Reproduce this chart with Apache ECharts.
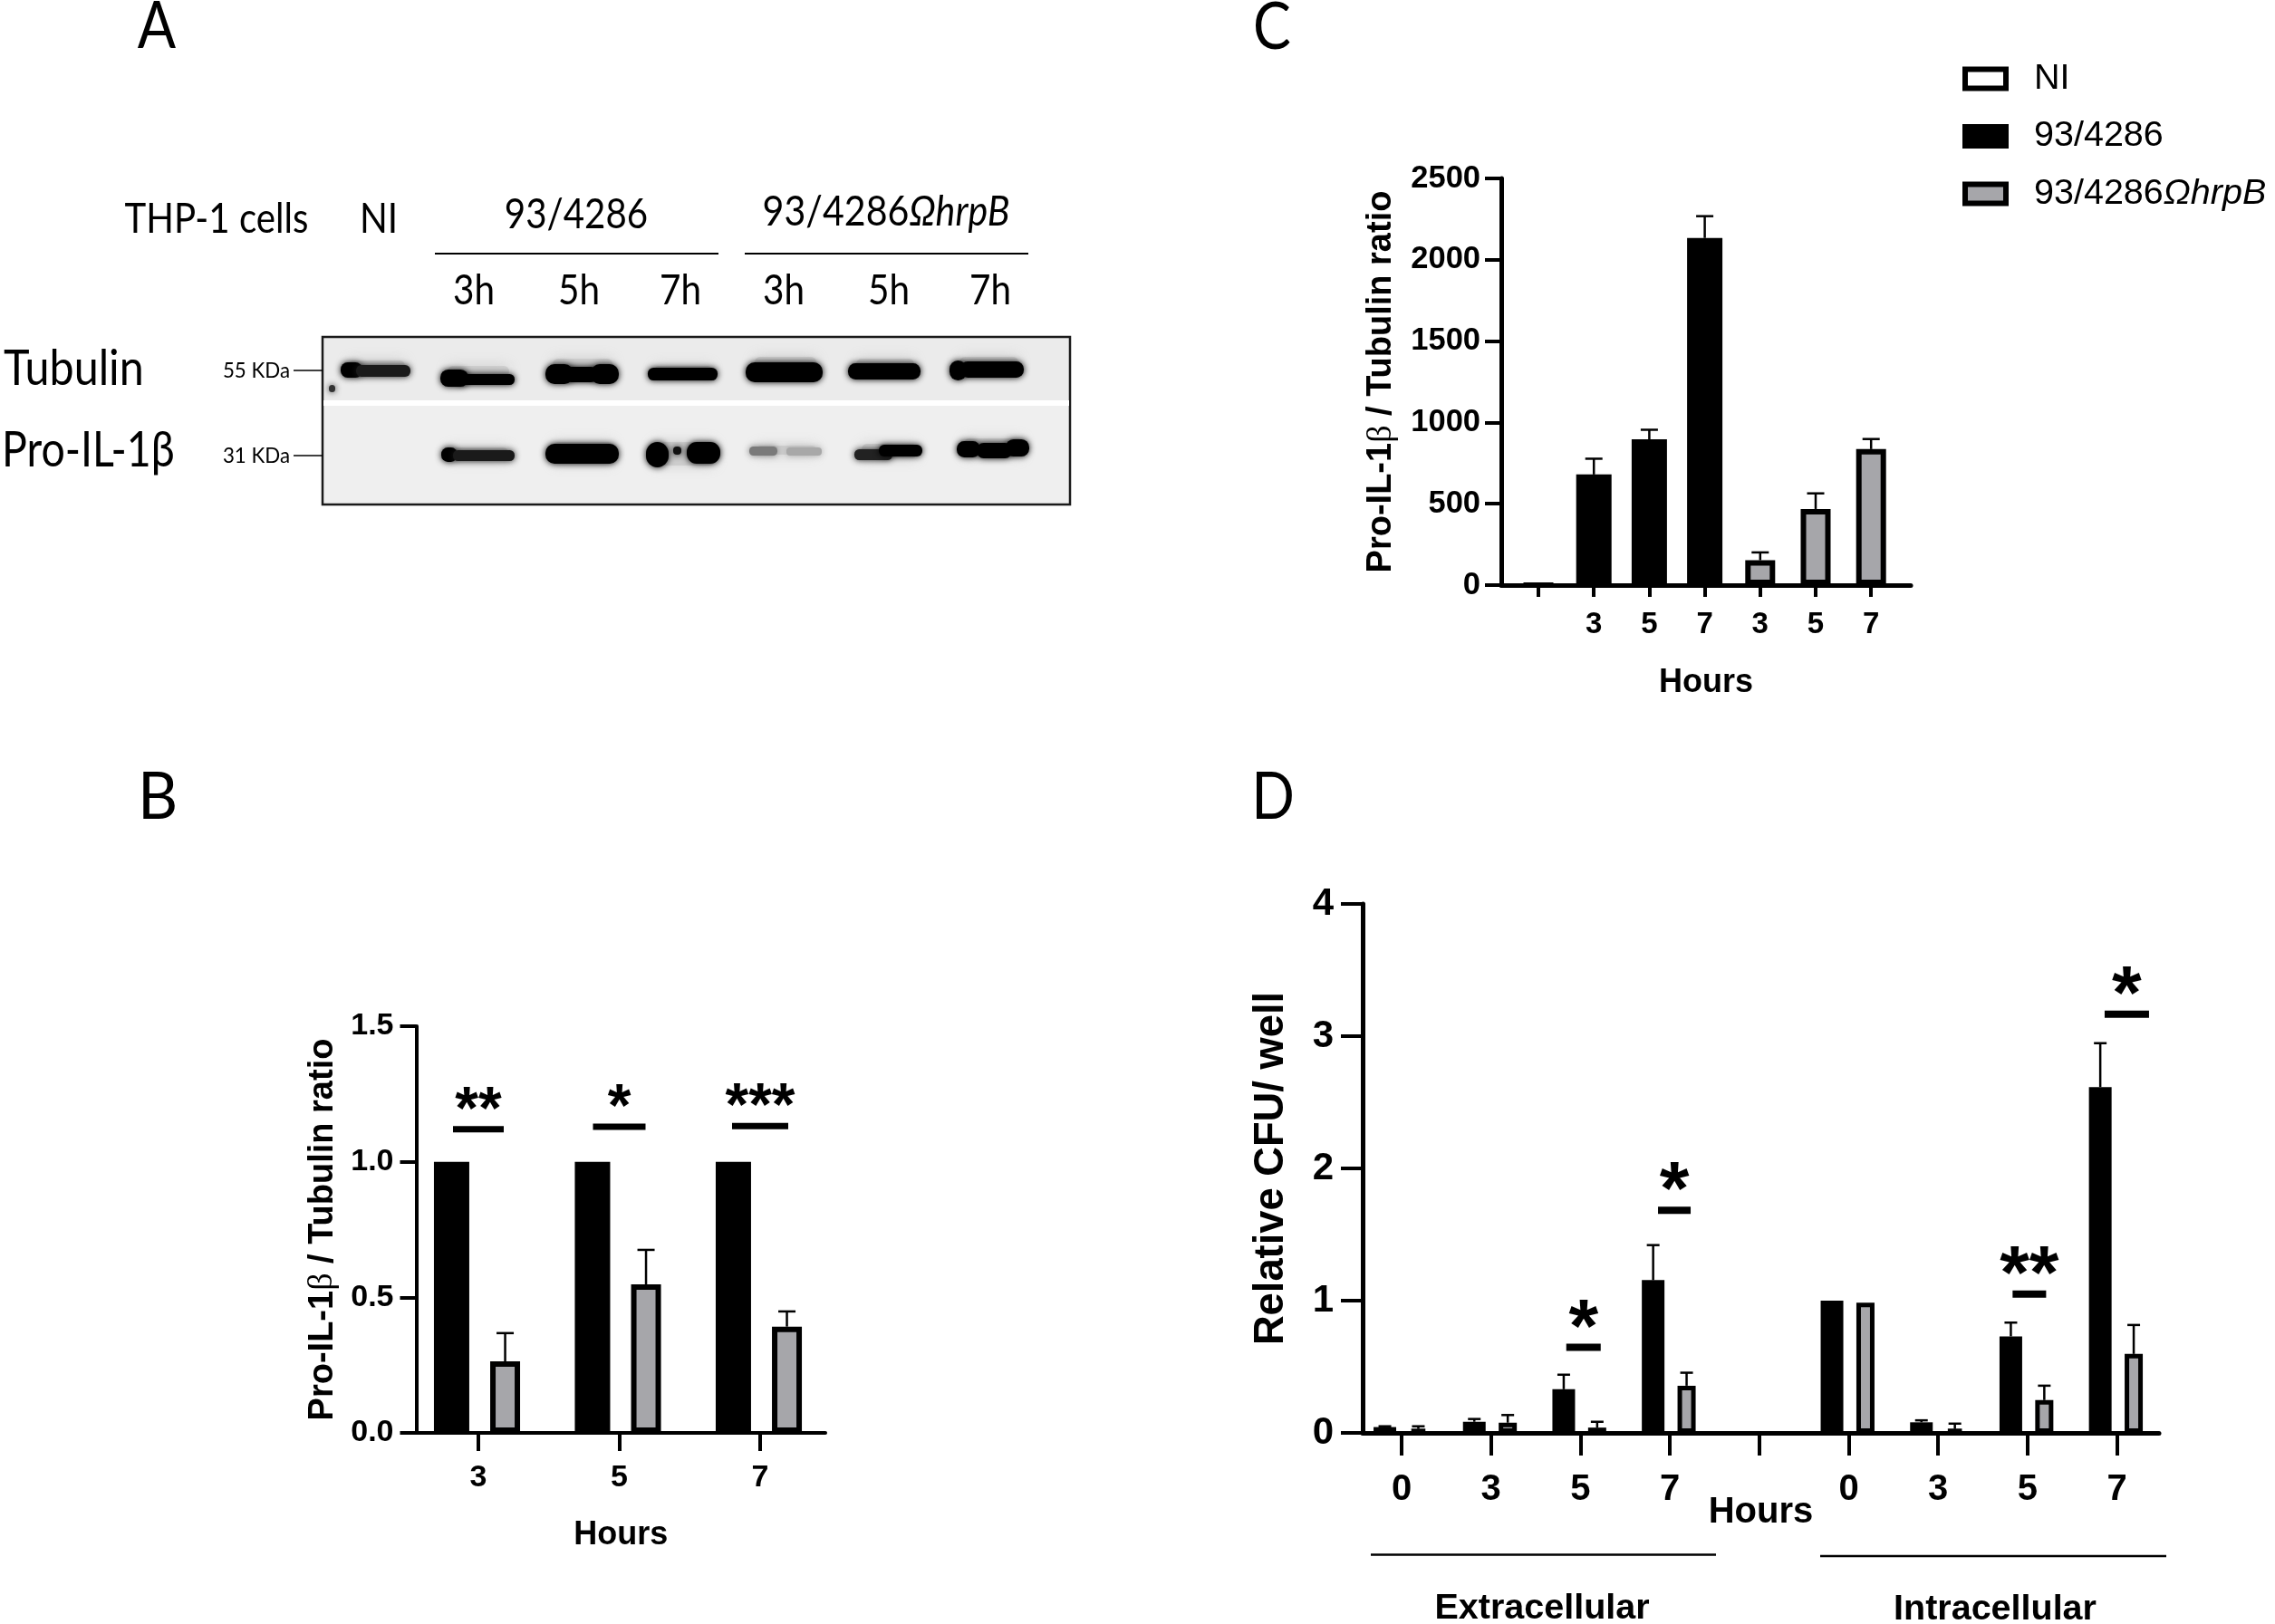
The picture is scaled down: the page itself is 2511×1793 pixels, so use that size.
<!DOCTYPE html>
<html>
<head>
<meta charset="utf-8">
<title>Pro-IL-1b figure</title>
<script src="https://cdn.jsdelivr.net/npm/echarts@6/dist/echarts.min.js"></script>
<style>
html,body{margin:0;padding:0;background:#fff}
#main{width:2511px;height:1793px}
</style>
</head>
<body>
<div id="main"></div>
<script>
// panel B
var hoursB = ['3','5','7'];
var wtB = [1,1,1];
var mutB = [0.264,0.548,0.392];
var mutErrB = [0.368,0.675,0.448];
var sigB = [[0,1.12,'**'],[1,1.129,'*'],[2,1.132,'***']];

// panel C
var hoursC = ['','3','5','7','3','5','7'];
var niC = [0];
var wtC = [680,896,2134];
var wtErrC = [777,955,2268];
var mutC = [153,468,836];
var mutErrC = [201,564,898];

// panel D
var hoursD = ['0','3','5','7','','0','3','5','7'];
var wtD = [0.044,0.084,0.33,1.155,null,1,0.08,0.73,2.615];
var wtErrD = [0.05,0.105,0.44,1.42,null,null,0.095,0.834,2.947];
var mutD = [0.03,0.077,0.04,0.357,null,0.985,0.03,0.248,0.597];
var mutErrD = [0.05,0.135,0.084,0.455,null,null,0.07,0.357,0.816];
var sigD = [[2.034,0.648,'*'],[3.05,1.683,'*'],[7.02,1.049,'**'],[8.11,3.166,'*']];

var GREY = '#a6a6aa';
var ARIAL = '"Liberation Sans",Arial,sans-serif';
var CALIBRI = 'Lato,"Open Sans",sans-serif';

var grids = [], xAxes = [], yAxes = [], series = [];

// one panel: visible x axis plus a hidden twin, so black and grey bars keep their own width
function addPanel(p){
  var g = grids.length;
  grids.push({left:p.left,top:p.top,width:p.width,height:p.height,containLabel:false});
  var xIdx = xAxes.length;
  xAxes.push({
    gridIndex:g,type:'value',min:p.xmin,max:p.xmax,splitLine:{show:false},
    name:'Hours',nameLocation:'middle',nameGap:p.xNameGap,nameMoveOverlap:false,
    nameTextStyle:{fontFamily:ARIAL,fontWeight:'bold',fontSize:p.xNameSize,color:'#000'},
    axisLine:{show:true,onZero:false,lineStyle:{color:'#000',width:p.lw}},
    axisTick:{show:true,customValues:p.slots,length:p.xTick,lineStyle:{color:'#000',width:4}},
    axisLabel:{show:true,customValues:p.slots,margin:p.xLabelMargin,fontFamily:ARIAL,fontWeight:'bold',fontSize:p.xLabelSize,color:'#000',
      formatter:function(v){return p.labels[v]}}
  });
  xAxes.push({gridIndex:g,type:'value',min:p.xmin,max:p.xmax,show:false,splitLine:{show:false}});
  yAxes.push({
    gridIndex:g,type:'value',min:0,max:p.ymax,interval:p.yint,splitLine:{show:false},
    name:p.yName,nameLocation:'middle',nameGap:p.yNameGap,nameRotate:90,nameMoveOverlap:false,
    nameTextStyle:{fontFamily:ARIAL,fontWeight:'bold',fontSize:p.yNameSize,color:'#000',
      rich:{a:{fontFamily:ARIAL,fontWeight:'bold',fontSize:p.yNameSize,color:'#000'},
            b:{fontFamily:'"Liberation Serif",serif',fontWeight:'normal',fontSize:p.yNameSize,color:'#000'}}},
    axisLine:{show:true,onZero:false,lineStyle:{color:'#000',width:p.lw}},
    axisTick:{show:true,length:p.yTick,lineStyle:{color:'#000',width:4}},
    axisLabel:{margin:p.yLabelMargin,fontFamily:ARIAL,fontWeight:'bold',fontSize:p.yLabelSize,color:'#000',
      formatter:function(v){return p.yfmt?p.yfmt(v):v}}
  });
  return {x:xIdx,twin:xIdx+1,y:g};
}

function barSeries(name,ax,xIndex,xs,vals,color,width,border){
  var d = [];
  vals.forEach(function(v,i){ if(v!=null) d.push([xs[i],v]) });
  series.push({
    name:name,type:'bar',xAxisIndex:xIndex,yAxisIndex:ax.y,data:d,barWidth:width,barGap:'-100%',
    itemStyle:{color:color,borderColor:'#000',borderWidth:border},
    emphasis:{disabled:true},silent:true
  });
}

function errSeries(ax,xs,vals,errs,capPx){
  var d = [];
  errs.forEach(function(e,i){ if(e!=null) d.push([xs[i],vals[i],e]) });
  series.push({
    type:'custom',xAxisIndex:ax.x,yAxisIndex:ax.y,data:d,silent:true,clip:false,
    encode:{x:0,y:[1,2]},
    renderItem:function(params,api){
      var a = api.coord([api.value(0),api.value(1)]);
      var b = api.coord([api.value(0),api.value(2)]);
      var st = {stroke:'#000',lineWidth:2.5,fill:null};
      return {type:'group',children:[
        {type:'line',shape:{x1:a[0],y1:a[1],x2:b[0],y2:b[1]},style:st},
        {type:'line',shape:{x1:b[0]-capPx/2,y1:b[1],x2:b[0]+capPx/2,y2:b[1]},style:st}
      ]};
    }
  });
}

// significance bar with its stars above
function sigSeries(ax,rows,barPx,thick,fontSize,gapPx){
  series.push({
    type:'custom',xAxisIndex:ax.x,yAxisIndex:ax.y,data:rows,silent:true,clip:false,
    encode:{x:0,y:1},
    renderItem:function(params,api){
      var c = api.coord([api.value(0),api.value(1)]);
      var r = rows[params.dataIndex];
      var w = barPx[params.dataIndex];
      return {type:'group',children:[
        {type:'rect',shape:{x:c[0]-w/2,y:c[1]-thick/2,width:w,height:thick},style:{fill:'#000'}},
        {type:'text',style:{x:c[0],y:c[1]-gapPx,text:r[2],align:'center',verticalAlign:'top',
          font:'bold '+fontSize+'px '+ARIAL,fill:'#000'}}
      ]};
    }
  });
}

function idx(a){return a.map(function(_,i){return i})}
function shift(a,d){return a.map(function(v){return v+d})}

// ---- panel B
var slotsB = idx(hoursB);
var axB = addPanel({
  left:459.5,top:1133,width:451.5,height:449,
  xmin:-(528-459.5)/155.5,xmax:(911-528)/155.5,slots:slotsB,labels:hoursB,lw:4,
  xTick:20,yTick:18,xNameGap:95,xNameSize:36,xLabelMargin:33,xLabelSize:34,
  ymax:1.5,yint:0.5,yfmt:function(v){return v.toFixed(1)},
  yName:'{a|Pro-IL-1}{b|β}{a| / Tubulin ratio}',yNameGap:84,yNameSize:38,yLabelMargin:25,yLabelSize:34
});
barSeries('',axB,axB.x,shift(slotsB,-0.19),wtB,'#000',39,0);
barSeries('',axB,axB.twin,shift(slotsB,0.19),mutB,GREY,33,6);
errSeries(axB,shift(slotsB,0.19),mutB,mutErrB,19);
sigSeries(axB,sigB,[56,58,62],7,66,52);

// ---- panel C
var slotsC = idx(hoursC);
var axC = addPanel({
  left:1657,top:197,width:452,height:449,
  xmin:-(1698-1657)/61.2,xmax:(2109-1698)/61.2,slots:slotsC,labels:hoursC,lw:5,
  xTick:13,yTick:18,xNameGap:90,xNameSize:36,xLabelMargin:27,xLabelSize:33,
  ymax:2500,yint:500,
  yName:'{a|Pro-IL-1}{b|β}{a| / Tubulin ratio}',yNameGap:113,yNameSize:38,yLabelMargin:23,yLabelSize:34.5
});
barSeries('NI',axC,axC.twin,[0],niC,'#fff',33,6);
barSeries('93/4286',axC,axC.x,[1,2,3],wtC,'#000',39,0);
barSeries('93/4286ΩhrpB',axC,axC.twin,[4,5,6],mutC,GREY,33,6);
errSeries(axC,[1,2,3],wtC,wtErrC,19);
errSeries(axC,[4,5,6],mutC,mutErrC,19);

// ---- panel D
var slotsD = idx(hoursD);
var axD = addPanel({
  left:1504,top:998,width:879,height:584,
  xmin:-(1547-1504)/98.7,xmax:(2383-1547)/98.7,slots:slotsD,labels:hoursD,lw:5,
  xTick:25,yTick:24,xNameGap:68,xNameSize:40,xLabelMargin:43,xLabelSize:40,
  ymax:4,yint:1,
  yName:'Relative CFU/ well',yNameGap:78,yNameSize:45.3,yLabelMargin:32,yLabelSize:42
});
barSeries('',axD,axD.x,shift(slotsD,-0.187),wtD,'#000',25,0);
barSeries('',axD,axD.twin,shift(slotsD,0.187),mutD,GREY,20,5);
errSeries(axD,shift(slotsD,-0.187),wtD,wtErrD,14);
errSeries(axD,shift(slotsD,0.187),mutD,mutErrD,14);
sigSeries(axD,sigD,[38,36,37,49],8,84,60);

// ---- panel A: the blot is a photograph, so it is only painted here as soft blobs in page pixels
var blotHaze = [
  [376,455,394,414],[486,570,400,420],[602,684,392,418],[715,793,400,416],[825,909,390,416],[937,1017,392,412],[1051,1132,390,412],
  [486,569,490,512],[602,685,484,516],[713,797,484,518],[827,909,488,506],[943,1020,486,510],[1056,1137,480,508]
];
var blotBlobs = [
  [376,400,400,417,'#000'],[393,453,403,416,'#1a1a1a'],
  [486,517,408,427,'#000'],[505,568,413,425,'#000'],
  [602,633,402,424,'#000'],[652,683,402,424,'#000'],[623,660,405,422,'#000'],
  [715,792,406,420,'#000'],
  [823,908,400,422,'#000'],
  [936,1016,401,419,'#000'],
  [1048,1067,398,420,'#000'],[1060,1130,399,417,'#000'],
  [363,370,425,433,'#333'],
  [487,505,494,510,'#000'],[500,568,497,509,'#1a1a1a'],
  [602,683,490,512,'#000'],
  [713,738,488,516,'#000'],[743,752,493,502,'#111'],[758,795,488,512,'#000'],
  [827,858,493,503,'#7a7a7a'],[868,907,494,503,'#a8a8a8'],
  [943,985,496,508,'#222'],[970,1018,491,504,'#000'],
  [1056,1082,487,505,'#000'],[1078,1117,489,506,'#000'],[1110,1136,485,504,'#000']
];
function hazeEl(b){
  return {type:'rect',shape:{x:b[0]+8,y:b[2]+4,width:b[1]-b[0]-16,height:b[3]-b[2]-8,r:6},
    style:{fill:'rgba(190,190,190,0.5)',shadowBlur:14,shadowColor:'rgba(170,170,170,0.9)'}};
}
function blobEl(b){
  return {type:'rect',shape:{x:b[0],y:b[2],width:b[1]-b[0],height:b[3]-b[2],r:(b[3]-b[2])/2.2},
    style:{fill:b[4],shadowBlur:7,shadowColor:b[4]}};
}
function txt(x,y,s,size,opt){
  opt = opt||{};
  return {type:'text',x:x,y:y,scaleX:opt.sx||1,style:{text:s,fill:'#000',align:opt.align||'center',verticalAlign:'middle',
    font:(opt.weight||'normal')+' '+size+'px '+(opt.family||CALIBRI),rich:opt.rich}};
}
function hline(x1,x2,y,w){
  return {type:'line',shape:{x1:x1,y1:y,x2:x2,y2:y},style:{stroke:'#000',lineWidth:w||2}};
}
var graphic = [
  {type:'rect',shape:{x:356,y:372,width:825,height:70},style:{fill:'#ebebeb'}},
  {type:'rect',shape:{x:356,y:448,width:825,height:109},style:{fill:'#efefef'}}
];
blotHaze.forEach(function(b){graphic.push(hazeEl(b))});
blotBlobs.forEach(function(b){graphic.push(blobEl(b))});
graphic.push({type:'rect',shape:{x:356,y:372,width:825,height:185},style:{fill:null,stroke:'#1a1a1a',lineWidth:2.5}});
graphic.push({type:'rect',shape:{x:357,y:442,width:823,height:6},style:{fill:'#fff'}});
var italicRich = {i:{fontStyle:'italic',font:'italic 46px '+CALIBRI,fill:'#000'},n:{font:'46px '+CALIBRI,fill:'#000'}};
graphic = graphic.concat([
  txt(173,30,'A',72,{sx:.87}),txt(174,881,'B',72,{sx:.95}),txt(1404,31,'C',72,{sx:.87}),txt(1405,881,'D',72,{sx:.87}),
  txt(239,242,'THP-1 cells',46,{sx:.875}),txt(418,242,'NI',46,{sx:.88}),txt(636,237,'93/4286',46,{sx:.875}),
  txt(978,234,'{n|93/4286}{i|ΩhrpB}',46,{rich:italicRich,sx:.895}),
  hline(480,793,280,2),hline(822,1135,280,2),
  txt(523,321,'3h',46,{sx:.88}),txt(639,321,'5h',46,{sx:.88}),txt(751,321,'7h',46,{sx:.88}),
  txt(865,321,'3h',46,{sx:.88}),txt(981,321,'5h',46,{sx:.88}),txt(1093,321,'7h',46,{sx:.88}),
  txt(4,408,'Tubulin',54,{align:'left',sx:.897}),txt(2,498,'Pro-IL-1β',54,{align:'left',sx:.86}),
  txt(283,409,'55 KDa',24,{sx:.93}),txt(283,503,'31 KDa',24,{sx:.93}),
  hline(324,356,409,1.5),hline(324,356,503,1.5),
  // panel D group lines and names
  hline(1513,1894,1716.5,2.5),hline(2009,2391,1718,2.5),
  txt(1702,1776,'Extracellular',39.5,{family:ARIAL,weight:'bold'}),
  txt(2202,1777,'Intracellular',39.5,{family:ARIAL,weight:'bold'})
]);

var chart = echarts.init(document.getElementById('main'));
chart.setOption({
  animation:false,
  backgroundColor:'#fff',
  grid:grids,xAxis:xAxes,yAxis:yAxes,series:series,
  graphic:{elements:graphic},
  legend:{
    orient:'vertical',left:2161,top:62,itemWidth:45,itemHeight:21,itemGap:23.5,selectedMode:false,icon:'rect',
    formatter:function(n){return n.indexOf('Ω')>0?'{n|93/4286}{i|ΩhrpB}':'{n|'+n+'}'},
    textStyle:{padding:[0,0,0,26],rich:{
      n:{fontFamily:ARIAL,fontSize:39.5,color:'#000'},
      i:{fontFamily:ARIAL,fontStyle:'italic',fontSize:39.5,color:'#000'}}},
    data:[
      {name:'NI',itemStyle:{color:'#fff',borderColor:'#000',borderWidth:6}},
      {name:'93/4286',itemStyle:{color:'#000',borderColor:'#000',borderWidth:6}},
      {name:'93/4286ΩhrpB',itemStyle:{color:GREY,borderColor:'#000',borderWidth:6}}
    ]
  }
});
</script>
</body>
</html>
